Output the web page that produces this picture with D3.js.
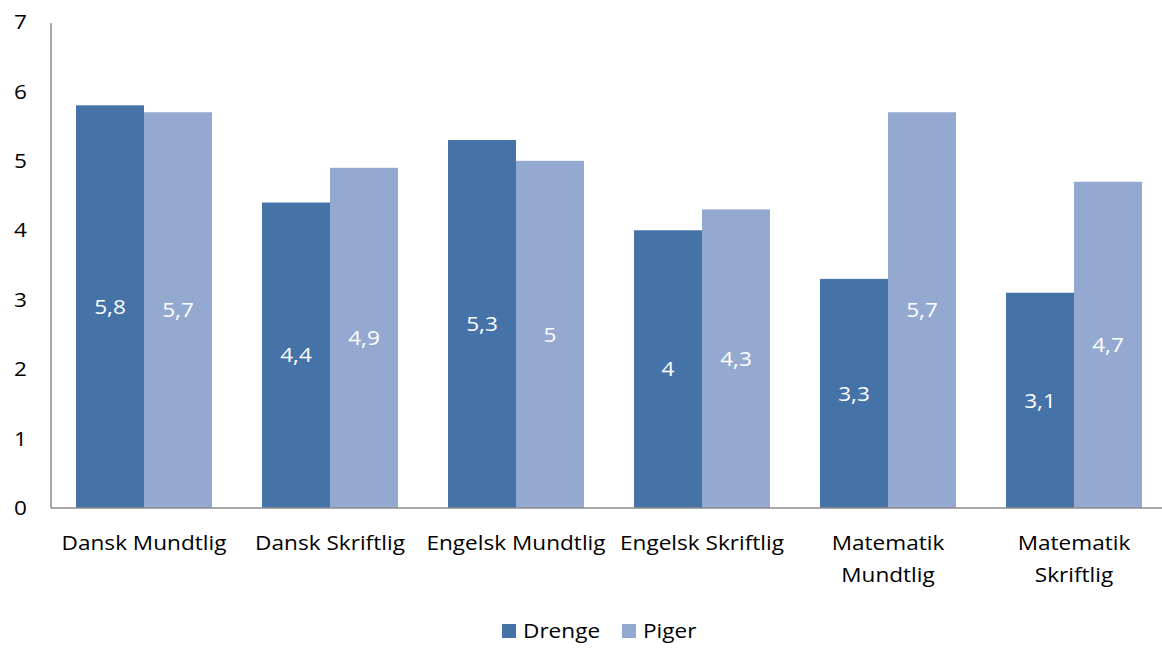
<!DOCTYPE html>
<html><head><meta charset="utf-8">
<script src="https://cdn.jsdelivr.net/npm/d3@7"></script>
<style>body{margin:0;background:#fff}svg{display:block}text{font-family:"Open Sans",sans-serif}</style>
</head><body><svg id="c" width="1162" height="648"></svg>
<script>
const categories = [["Dansk Mundtlig"],["Dansk Skriftlig"],["Engelsk Mundtlig"],["Engelsk Skriftlig"],["Matematik","Mundtlig"],["Matematik","Skriftlig"]];
const seriesNames = ["Drenge","Piger"];
const drenge = [5.8,4.4,5.3,4.0,3.3,3.1];
const piger = [5.7,4.9,5.0,4.3,5.7,4.7];
const yTicks = [0,1,2,3,4,5,6,7];
const colors = ["#4572A7","#93A9CF"];

const svg = d3.select("#c");
const x0 = d3.scaleBand().domain(d3.range(categories.length)).range([51,1167]).paddingInner(0.269).paddingOuter(0.1345);
const x1 = d3.scaleBand().domain(seriesNames).range([0,x0.bandwidth()]);
const y = d3.scaleLinear().domain([0,7]).range([508,22]);
const fmt = v => String(v).replace(".",",");
const fs = "20px";
const sx = 1.13;

const data = categories.map((c,i)=>({i, vals:[drenge[i],piger[i]]}));
const g = svg.selectAll("g.grp").data(data).join("g").attr("transform",d=>`translate(${x0(d.i)},0)`);
g.selectAll("rect").data(d=>d.vals.map((v,k)=>({v,k}))).join("rect")
 .attr("x",d=>x1(seriesNames[d.k])).attr("width",x1.bandwidth())
 .attr("y",d=>y(d.v)).attr("height",d=>y(0)-y(d.v)).attr("fill",d=>colors[d.k]);
g.selectAll("text.lbl").data(d=>d.vals.map((v,k)=>({v,k}))).join("text").attr("class","lbl")
 .attr("transform",d=>`translate(${x1(seriesNames[d.k])+x1.bandwidth()/2},${y(d.v/2)}) scale(${sx},1)`)
 .attr("text-anchor","middle").attr("dy","0.36em").attr("fill","#fff").style("font-size",fs).text(d=>fmt(d.v));

// axes lines
svg.append("line").attr("x1",51).attr("x2",51).attr("y1",y(7)+1).attr("y2",y(0)).attr("stroke","#8c8c8c").attr("stroke-width",1.5);
svg.append("line").attr("x1",51).attr("x2",1162).attr("y1",y(0)).attr("y2",y(0)).attr("stroke","#8c8c8c").attr("stroke-width",1.5);

// y tick labels
svg.selectAll("text.yt").data(yTicks).join("text").attr("class","yt")
 .attr("transform",d=>`translate(27,${y(d)}) scale(${sx},1)`).attr("text-anchor","end").attr("dy","0.36em")
 .attr("fill","#000").style("font-size",fs).text(d=>d);

// category labels
const cl = svg.selectAll("text.cat").data(categories).join("text").attr("class","cat")
 .attr("transform",(d,i)=>`translate(${x0(i)+x0.bandwidth()/2},550) scale(${sx},1)`)
 .attr("text-anchor","middle").attr("fill","#000").style("font-size",fs);
cl.selectAll("tspan").data(d=>d).join("tspan").attr("x",0).attr("dy",(d,j)=>j?32:0).text(d=>d);

// legend
const leg = [{n:"Drenge",x:502},{n:"Piger",x:622}];
leg.forEach((l,k)=>{
  svg.append("rect").attr("x",l.x).attr("y",624).attr("width",14).attr("height",14).attr("fill",colors[k]);
  svg.append("text").attr("transform",`translate(${l.x+21},638) scale(${sx},1)`).attr("fill","#000").style("font-size",fs).text(seriesNames[k]);
});
</script></body></html>
